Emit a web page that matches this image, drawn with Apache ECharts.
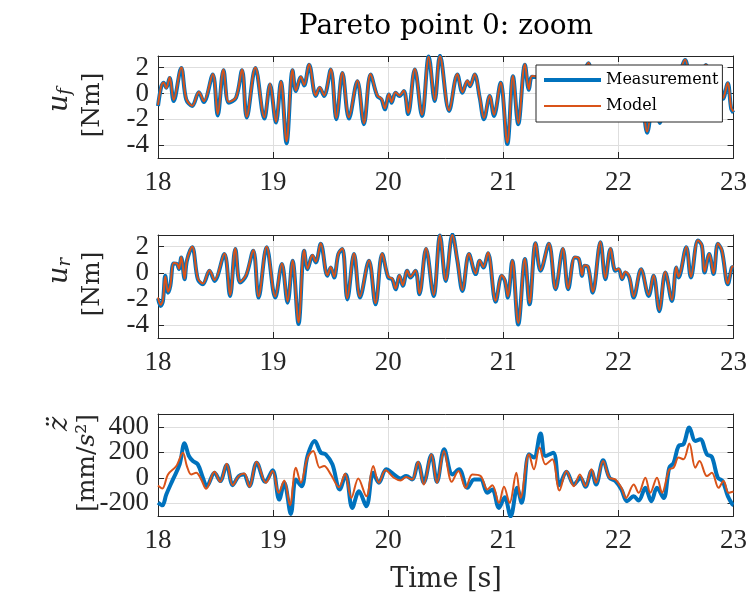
<!DOCTYPE html>
<html><head><meta charset="utf-8">
<script src="https://cdn.jsdelivr.net/npm/echarts@6/dist/echarts.min.js"></script>
<style>html,body{margin:0;padding:0;background:#fff}#c{width:750px;height:599px}</style>
</head><body><div id="c"></div>
<script>
// ---------- tick labels ----------
const xTicks = [18, 19, 20, 21, 22, 23];
const yTicksU = [-4, -2, 0, 2];
const yTicksZ = [-200, 0, 200, 400];
const seriesNames = ['Measurement', 'Model'];

// ---------- u_f (top panel) ----------
const tUf = [18.000,18.029,18.049,18.072,18.101,18.136,18.202,18.245,18.297,18.355,
18.398,18.476,18.519,18.569,18.615,18.678,18.730,18.771,18.846,18.924,
18.973,19.025,19.068,19.117,19.169,19.198,19.241,19.270,19.313,19.371,
19.405,19.443,19.501,19.550,19.602,19.659,19.732,19.789,19.847,19.905,
19.942,19.971,20.006,20.029,20.064,20.098,20.136,20.173,20.231,20.294,
20.352,20.404,20.450,20.529,20.601,20.645,20.688,20.711,20.751,20.795,
20.832,20.882,20.919,20.977,21.035,21.084,21.130,21.188,21.222,21.250,
21.300,21.360,21.430,21.490,21.550,21.610,21.680,21.740,21.800,21.860,
21.920,21.970,22.030,22.090,22.140,22.190,22.250,22.310,22.360,22.420,
22.470,22.530,22.580,22.640,22.700,22.760,22.810,22.850,22.880,22.910,
22.950,22.980,23.000];
const measUf = [-0.97,0.56,0.82,0.44,1.2,-0.59,1.97,-0.46,-0.97,0.1,
-0.67,1.46,-1.7,1.8,-0.72,-0.33,1.8,-1.87,1.97,-1.95,
0.69,-2.26,0.9,-3.85,1.8,0.18,1.26,0.62,2.23,-0.2,
0.44,-0.2,1.85,-2.0,1.59,-1.95,0.95,-2.38,1.46,-0.2,
-0.46,-1.23,-0.08,-0.72,0.05,-0.2,0.18,-1.6,1.85,-1.74,
2.87,-0.59,2.92,-1.36,1.46,0.05,0.95,0.56,1.46,-0.33,
-2.0,-0.2,-1.74,0.82,-3.92,1.33,-2.38,2.23,0.28,1.3,
1.2,-1.0,1.5,-0.8,0.6,-1.4,0.9,2.33,-0.5,0.8,
-1.0,0.3,-1.95,0.2,-1.0,0.5,-3.05,0.1,-2.28,0.7,
-0.6,1.4,2.59,0.3,1.2,2.2,-0.3,0.4,0.67,-0.41,
0.79,-1.2,-1.5];
const modelUf = [-0.9,0.6,0.85,0.4,1.25,-0.5,2.0,-0.4,-0.95,0.12,
-0.6,1.5,-1.6,1.85,-0.65,-0.3,1.85,-1.8,2.0,-1.85,
0.75,-2.2,0.95,-3.7,1.85,0.22,1.3,0.65,2.28,-0.15,
0.48,-0.15,1.9,-1.9,1.62,-1.85,1.0,-2.3,1.5,-0.15,
-0.42,-1.15,-0.05,-0.68,0.1,-0.15,0.22,-1.5,1.9,-1.65,
2.85,-0.5,2.88,-1.3,1.5,0.1,1.0,0.6,1.5,-0.28,
-1.9,-0.15,-1.65,0.85,-3.8,1.38,-2.3,2.28,0.32,1.35,
1.25,-0.95,1.55,-0.75,0.65,-1.35,0.95,2.38,-0.45,0.85,
-0.95,0.35,-1.9,0.25,-0.95,0.55,-2.95,0.15,-2.2,0.75,
-0.55,1.45,2.62,0.35,1.25,2.25,-0.25,0.45,0.7,-0.35,
0.82,-1.1,-1.4];

// ---------- u_r (middle panel) ----------
const tUr = [18.000,18.023,18.043,18.063,18.087,18.107,18.136,18.165,18.182,18.202,
18.231,18.251,18.297,18.346,18.390,18.447,18.491,18.577,18.626,18.672,
18.713,18.765,18.828,18.874,18.944,19.019,19.076,19.126,19.169,19.221,
19.270,19.299,19.342,19.371,19.414,19.472,19.501,19.530,19.567,19.602,
19.645,19.703,19.755,19.833,19.890,19.948,20.000,20.035,20.064,20.098,
20.127,20.165,20.193,20.237,20.271,20.329,20.395,20.450,20.500,20.558,
20.601,20.645,20.702,20.760,20.795,20.827,20.867,20.934,20.986,21.014,
21.040,21.078,21.130,21.188,21.228,21.280,21.324,21.396,21.454,21.517,
21.564,21.621,21.656,21.685,21.705,21.737,21.777,21.844,21.887,21.931,
21.974,22.003,22.032,22.061,22.095,22.133,22.197,22.263,22.306,22.355,
22.408,22.465,22.503,22.523,22.590,22.630,22.691,22.725,22.749,22.789,
22.827,22.864,22.899,22.951,22.986,23.000];
const measUr = [-1.96,-2.55,-2.16,-0.23,-1.52,-1.0,0.72,0.67,0.28,1.18,
-0.49,0.93,1.96,-0.49,-0.88,0.15,-0.62,1.44,-1.78,1.83,
-0.75,-0.23,1.7,-1.9,1.96,-1.9,0.67,-2.29,0.93,-3.92,
1.7,0.28,1.31,0.8,2.22,-0.23,0.41,-0.36,1.44,1.83,
-2.04,1.44,-1.9,0.93,-2.42,1.44,-0.36,-0.49,-1.26,-0.23,
-1.0,0.15,-0.36,0.15,-1.65,1.83,-1.78,2.86,-0.62,2.94,
0.93,-1.39,1.44,-0.1,0.93,0.41,1.5,-2.22,-0.23,-0.62,
-1.9,0.93,-3.97,1.06,-2.42,2.27,0.15,2.22,-1.26,1.83,
-1.26,1.18,1.06,-0.23,0.54,0.41,-1.52,2.35,-0.49,1.83,
0.15,0.28,-0.49,0.03,-0.36,-1.9,0.28,-1.78,-0.23,-2.94,
0.03,-2.16,0.41,-0.36,1.96,-0.36,2.47,2.09,0.03,1.44,
-0.1,2.22,1.7,-0.88,0.41,0.45];
const modelUr = [-1.9,-2.45,-2.1,-0.28,-1.45,-0.95,0.75,0.7,0.32,1.22,
-0.45,0.97,2.0,-0.42,-0.82,0.2,-0.55,1.48,-1.7,1.88,
-0.7,-0.18,1.75,-1.82,2.0,-1.82,0.72,-2.2,0.97,-3.8,
1.75,0.32,1.36,0.85,2.26,-0.18,0.45,-0.3,1.48,1.86,
-1.95,1.48,-1.82,0.97,-2.32,1.48,-0.3,-0.44,-1.2,-0.18,
-0.95,0.2,-0.3,0.2,-1.58,1.88,-1.7,2.88,-0.55,2.9,
0.97,-1.32,1.48,-0.05,0.97,0.45,1.55,-2.15,-0.18,-0.56,
-1.82,0.97,-3.85,1.1,-2.32,2.3,0.2,2.26,-1.2,1.88,
-1.2,1.22,1.1,-0.18,0.58,0.45,-1.45,2.38,-0.42,1.88,
0.2,0.32,-0.44,0.08,-0.3,-1.82,0.32,-1.7,-0.18,-2.85,
0.08,-2.08,0.45,-0.3,2.0,-0.3,2.5,2.12,0.08,1.48,
-0.05,2.26,1.75,-0.82,0.45,0.5];

// ---------- z-acceleration (bottom panel) ----------
const tZMeas = [18.000,18.038,18.072,18.130,18.188,18.231,18.268,18.303,18.346,18.390,
18.424,18.491,18.540,18.597,18.649,18.701,18.745,18.794,18.857,18.932,
18.996,19.053,19.097,19.154,19.198,19.247,19.299,19.362,19.414,19.457,
19.515,19.579,19.631,19.688,19.746,19.810,19.870,19.919,19.983,20.049,
20.107,20.156,20.208,20.260,20.309,20.375,20.424,20.486,20.558,20.616,
20.688,20.746,20.803,20.861,20.905,20.962,21.012,21.064,21.121,21.159,
21.223,21.266,21.324,21.367,21.434,21.488,21.549,21.613,21.671,21.714,
21.766,21.806,21.867,21.922,21.974,22.026,22.075,22.133,22.176,22.234,
22.286,22.335,22.393,22.442,22.480,22.523,22.566,22.616,22.668,22.711,
22.769,22.812,22.864,22.905,22.951,22.991,23.000];
const measZ = [-195,-216,-131,-13,105,271,171,131,105,0,
-66,39,-26,100,-58,13,26,-66,118,-32,
58,-171,-39,-284,-13,-66,171,289,197,184,
105,-92,26,-237,-105,-224,39,-39,66,26,
-5,13,-13,118,-39,179,-32,224,26,66,
-79,-13,-13,-118,-92,-237,-153,-302,-79,-197,
184,158,347,171,197,-58,47,-53,0,-71,
53,-53,137,0,-26,-92,-184,-145,-179,-79,
-184,-79,-158,79,118,250,263,395,289,302,
184,163,0,-26,-145,-210,-215];
const tZModel = [18.000,18.038,18.087,18.159,18.216,18.251,18.289,18.332,18.375,18.418,
18.491,18.540,18.597,18.649,18.701,18.750,18.794,18.857,18.938,18.996,
19.048,19.097,19.146,19.198,19.241,19.299,19.348,19.405,19.443,19.501,
19.573,19.625,19.680,19.740,19.810,19.870,19.919,19.977,20.049,20.107,
20.156,20.208,20.260,20.309,20.375,20.424,20.485,20.552,20.610,20.673,
20.731,20.803,20.861,20.905,20.962,21.006,21.055,21.113,21.150,21.223,
21.266,21.315,21.367,21.425,21.488,21.549,21.613,21.665,21.714,21.766,
21.806,21.867,21.922,21.974,22.026,22.066,22.133,22.176,22.234,22.277,
22.335,22.379,22.442,22.480,22.523,22.566,22.616,22.668,22.705,22.769,
22.812,22.870,22.913,22.957,22.991,23.000];
const modelZ = [-60,-84,26,92,197,92,26,39,-13,-87,
47,-32,110,-58,13,34,-71,126,-39,53,
-118,-21,-216,79,-39,158,210,79,92,26,
-74,32,-158,-5,-145,92,-39,58,0,-21,
5,-13,126,-53,184,-39,210,-32,53,-79,
26,13,-92,-58,-197,-71,-197,39,-158,184,
66,237,105,145,-100,53,-66,26,-66,66,
-39,132,0,-13,-79,-158,-53,-118,0,-118,
0,-118,66,79,158,145,268,79,132,13,
39,-79,-26,-118,-110,-108];

// ---------- styling ----------
const AX = '#262626', GRID = '#dedede';
const BLUE = '#0072BD', ORANGE = '#D95319';
const NUMFONT = '"Liberation Serif"', TXTFONT = '"DejaVu Serif"';

function xAx(gi, pos, show) {
  return { type: 'value', gridIndex: gi, position: pos, min: xTicks[0], max: xTicks[xTicks.length - 1], interval: 1,
    axisLine: { show: true, onZero: false, lineStyle: { color: AX, width: 1 } },
    axisTick: { show: true, inside: true, length: 6, lineStyle: { color: AX } },
    axisLabel: { show: show, margin: 11, fontFamily: NUMFONT, fontSize: 27, color: AX },
    splitLine: { show: show, lineStyle: { color: GRID, width: 1 } } };
}
// main y axis: line, ticks, grid lines, and every other label
function yAx(gi, pos, main, min, max, ticks, labels) {
  return { type: 'value', gridIndex: gi, position: pos, min: min, max: max,
    axisLine: { show: main, onZero: false, lineStyle: { color: AX, width: 1 } },
    axisTick: { show: main, inside: true, length: 6, customValues: ticks, lineStyle: { color: AX } },
    axisLabel: { show: labels.length > 0, customValues: labels.length ? labels : ticks, margin: 9,
      fontFamily: NUMFONT, fontSize: 27, color: AX },
    splitLine: { show: main && pos === 'left', lineStyle: { color: GRID, width: 1 } } };
}
function ser(name, gi, t, v, color, w, z) {
  return { type: 'line', name: name, xAxisIndex: gi * 2, yAxisIndex: gi * 3,
    data: t.map((x, i) => [x, v[i]]), symbol: 'none', showSymbol: false,
    smooth: 0.35, lineStyle: { color: color, width: w }, itemStyle: { color: color }, z: z, clip: true };
}
function rotText(x, y, text, size, rich) {
  return { type: 'text', x: x, y: y, rotation: Math.PI / 2,
    style: { text: text, fontFamily: TXTFONT, fontSize: size, fill: AX, align: 'center', verticalAlign: 'middle', rich: rich || {} } };
}
const subRich = {
  i: { fontFamily: TXTFONT, fontStyle: 'italic', fontSize: 27, lineHeight: 28, fill: AX, verticalAlign: 'middle' },
  s: { fontFamily: TXTFONT, fontStyle: 'italic', fontSize: 18, lineHeight: 15, fill: AX, verticalAlign: 'bottom' }
};
const unitRich = {
  n: { fontFamily: TXTFONT, fontSize: 25, fill: AX },
  i: { fontFamily: TXTFONT, fontStyle: 'italic', fontSize: 25, fill: AX }
};
const yAxes = [];
[[-5, 2.9, yTicksU], [-5, 2.9, yTicksU], [-300, 500, yTicksZ]].forEach(function (p, gi) {
  const tk = p[2];
  yAxes.push(yAx(gi, 'left', true, p[0], p[1], tk, [tk[0], tk[2]]));
  yAxes.push(yAx(gi, 'right', true, p[0], p[1], tk, []));
  yAxes.push(yAx(gi, 'left', false, p[0], p[1], tk, [tk[1], tk[3]]));
});

const chart = echarts.init(document.getElementById('c'), null, { renderer: 'canvas' });
chart.setOption({
  animation: false,
  backgroundColor: '#fff',
  grid: [
    { left: 158, right: 15, top: 56, height: 102 },
    { left: 158, right: 15, top: 235, height: 103 },
    { left: 158, right: 15, top: 414, height: 102 }
  ],
  xAxis: [xAx(0, 'bottom', true), xAx(0, 'top', false),
          xAx(1, 'bottom', true), xAx(1, 'top', false),
          xAx(2, 'bottom', true), xAx(2, 'top', false)],
  yAxis: yAxes,
  legend: {
    orient: 'vertical', left: 536, top: 65,
    data: [{ name: seriesNames[0], lineStyle: { width: 4 } }, { name: seriesNames[1], lineStyle: { width: 2 } }],
    itemWidth: 57, itemHeight: 14, itemGap: 10, padding: [7, 4, 8, 6],
    itemStyle: { opacity: 0 },
    backgroundColor: '#fff', borderColor: AX, borderWidth: 1, borderRadius: 0,
    textStyle: { fontFamily: TXTFONT, fontSize: 16, color: '#000' }
  },
  series: [
    ser(seriesNames[0], 0, tUf, measUf, BLUE, 4, 2),
    ser(seriesNames[1], 0, tUf, modelUf, ORANGE, 2, 3),
    ser(seriesNames[0], 1, tUr, measUr, BLUE, 4, 2),
    ser(seriesNames[1], 1, tUr, modelUr, ORANGE, 2, 3),
    ser(seriesNames[0], 2, tZMeas, measZ, BLUE, 4, 2),
    ser(seriesNames[1], 2, tZModel, modelZ, ORANGE, 2, 3)
  ],
  graphic: [
    { type: 'text', x: 446, y: 27, style: { text: 'Pareto point 0: zoom', fontFamily: TXTFONT, fontSize: 28, fill: '#000', align: 'center', verticalAlign: 'middle' } },
    { type: 'text', x: 446, y: 580, style: { text: 'Time [s]', fontFamily: TXTFONT, fontSize: 27, fill: AX, align: 'center', verticalAlign: 'middle' } },
    rotText(60, 100, '{i|u}{s|f}', 27, subRich),
    rotText(92, 105, '[Nm]', 25),
    rotText(60, 271, '{i|u}{s|r}', 27, subRich),
    rotText(92, 284, '[Nm]', 25),
    rotText(60, 424, '{i|z\u0308}', 27, subRich),
    rotText(87, 463, '{n|[mm/}{i|s}{n|\u00b2]}', 25, unitRich)
  ]
});
</script></body></html>
